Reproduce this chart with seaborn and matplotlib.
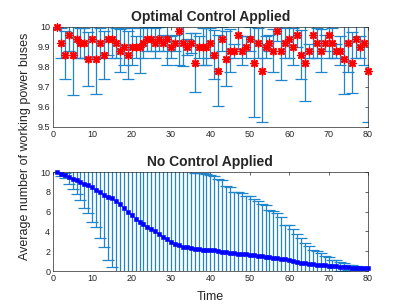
import numpy as np
import matplotlib
matplotlib.use("Agg")
import matplotlib.pyplot as plt
import seaborn as sns

# time steps 1..80
time = np.arange(1, 81)

# optimal control: mean working buses and error half-widths
ctrl_mean = [
    10.00, 9.92, 9.86, 9.96, 9.86, 9.94, 9.92, 9.92, 9.84, 9.94,
    9.84, 9.92, 9.86, 9.94, 9.94, 9.92, 9.88, 9.90, 9.86, 9.90,
    9.90, 9.90, 9.92, 9.94, 9.94, 9.92, 9.94, 9.92, 9.94, 9.90,
    9.92, 9.98, 9.92, 9.90, 9.92, 9.82, 9.90, 9.90, 9.90, 9.92,
    9.86, 9.78, 9.94, 9.84, 9.88, 9.88, 9.96, 9.88, 9.90, 9.94,
    9.82, 9.92, 9.78, 9.90, 9.92, 9.88, 9.98, 9.88, 9.92, 9.94,
    9.90, 9.96, 9.86, 9.82, 9.88, 9.96, 9.92, 9.88, 9.92, 9.96,
    9.92, 9.88, 9.88, 9.84, 9.92, 9.82, 9.94, 9.90, 9.92, 9.78,
]
ctrl_err = [
    0.000, 0.075, 0.120, 0.080, 0.200, 0.095, 0.075, 0.075, 0.135, 0.100,
    0.178, 0.075, 0.120, 0.080, 0.095, 0.075, 0.107, 0.093, 0.120, 0.093,
    0.055, 0.133, 0.075, 0.060, 0.060, 0.075, 0.060, 0.040, 0.133, 0.055,
    0.040, 0.173, 0.115, 0.040, 0.050, 0.148, 0.055, 0.093, 0.093, 0.075,
    0.123, 0.177, 0.060, 0.137, 0.107, 0.035, 0.073, 0.073, 0.055, 0.060,
    0.273, 0.075, 0.258, 0.055, 0.040, 0.107, 0.050, 0.147, 0.075, 0.095,
    0.093, 0.060, 0.123, 0.192, 0.035, 0.115, 0.075, 0.107, 0.040, 0.115,
    0.075, 0.035, 0.073, 0.178, 0.147, 0.153, 0.095, 0.055, 0.110, 0.258,
]

# no control: mean working buses and error half-widths
noctrl_mean = [
    10.00, 9.83, 9.66, 9.50, 9.33, 9.16, 9.00, 8.83, 8.66, 8.44,
    8.20, 7.94, 7.72, 7.52, 7.34, 7.10, 6.74, 6.34, 5.95, 5.62,
    5.28, 4.98, 4.75, 4.50, 4.25, 4.10, 3.78, 3.45, 3.20, 2.96,
    2.76, 2.59, 2.47, 2.39, 2.32, 2.26, 2.20, 2.18, 2.14, 2.12,
    2.09, 2.04, 1.98, 1.92, 1.86, 1.80, 1.76, 1.72, 1.68, 1.64,
    1.59, 1.53, 1.49, 1.45, 1.40, 1.35, 1.31, 1.25, 1.18, 1.11,
    1.02, 0.93, 0.86, 0.79, 0.72, 0.68, 0.64, 0.60, 0.57, 0.54,
    0.50, 0.47, 0.44, 0.41, 0.38, 0.35, 0.32, 0.30, 0.28, 0.27,
]
noctrl_err = [
    0.00, 0.23, 0.26, 0.70, 1.08, 1.38, 1.86, 2.47, 2.80, 3.50,
    3.70, 4.63, 5.33, 6.44, 6.97, 7.60, 7.30, 6.90, 6.50, 6.10,
    5.80, 5.50, 5.80, 6.00, 6.20, 6.40, 6.60, 6.90, 7.20, 7.40,
    7.60, 7.80, 7.90, 8.00, 8.10, 7.69, 7.75, 7.77, 7.71, 7.58,
    7.47, 7.26, 7.18, 6.68, 6.59, 6.20, 6.19, 6.13, 5.92, 5.91,
    5.71, 5.57, 5.26, 5.25, 4.80, 4.75, 4.54, 4.17, 3.52, 3.54,
    3.23, 2.77, 2.44, 2.06, 1.78, 1.47, 1.41, 1.25, 0.93, 0.91,
    0.65, 0.63, 0.46, 0.44, 0.27, 0.25, 0.23, 0.15, 0.10, 0.05,
]

sns.set_style("white")
plt.rcParams["font.family"] = ["Liberation Sans", "DejaVu Sans"]

BAR_COLOR = "#1f86cc"
AX_COLOR = "#262626"

fig = plt.figure(figsize=(4.07, 3.05), dpi=100)
ax1 = fig.add_axes([0.130, 0.584, 0.774, 0.328])
ax2 = fig.add_axes([0.130, 0.111, 0.774, 0.325])


def style_axis(ax):
    ax.set_xlim(0, 80)
    ax.set_xticks(range(0, 81, 10))
    ax.tick_params(direction="in", top=True, right=True, length=2.5, width=0.5,
                   labelsize=6.5, colors=AX_COLOR, pad=2)
    for sp in ax.spines.values():
        sp.set_visible(True)
        sp.set_linewidth(0.5)
        sp.set_color(AX_COLOR)


# top: optimal control
ax1.errorbar(time, ctrl_mean, yerr=ctrl_err, fmt="none", ecolor=BAR_COLOR,
             elinewidth=0.9, capsize=4.2, capthick=0.9, zorder=2)
pts1 = sns.scatterplot(x=time, y=ctrl_mean, ax=ax1, marker=(8, 2, 0), color="red",
                       edgecolor="red", s=26, linewidth=1.1, zorder=3, legend=False)
ax1.set_ylim(9.5, 10)
ax1.set_yticks(np.arange(9.5, 10.01, 0.1))
ax1.set_yticklabels(["9.5", "9.6", "9.7", "9.8", "9.9", "10"])
ax1.set_title("Optimal Control Applied", fontsize=10, fontweight="bold", pad=4)
style_axis(ax1)

# bottom: no control
ax2.errorbar(time, noctrl_mean, yerr=noctrl_err, fmt="none", ecolor=BAR_COLOR,
             elinewidth=0.9, capsize=4.2, capthick=0.9, zorder=2)
sns.scatterplot(x=time, y=noctrl_mean, ax=ax2, marker="s", color="blue",
                edgecolor="blue", s=11, linewidth=0.4, zorder=3, legend=False)
ax2.set_ylim(0, 10)
ax2.set_yticks(range(0, 11, 2))
ax2.set_title("No Control Applied", fontsize=10, fontweight="bold", pad=4)
ax2.set_xlabel("Time", fontsize=9, labelpad=6)
style_axis(ax2)

for ax in (ax1, ax2):
    for coll in ax.collections[-1:]:
        coll.set_clip_on(False)

fig.text(0.062, 1 - 146 / 305, "Average number of working power buses",
         rotation=90, va="center", ha="center", fontsize=9)

fig.savefig("out.png", dpi=100, facecolor="white")
